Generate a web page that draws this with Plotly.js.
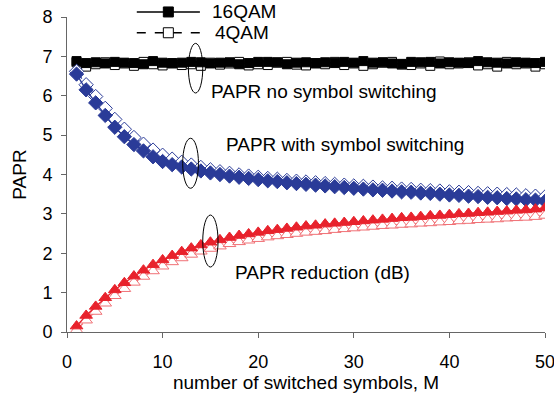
<!DOCTYPE html>
<html><head><meta charset="utf-8">
<script src="https://cdn.plot.ly/plotly-3.0.1.min.js"></script>
<style>html,body{margin:0;padding:0;background:#fff}#c{width:554px;height:394px}</style>
</head><body><div id="c"></div>
<script>
const M = [1,2,3,4,5,6,7,8,9,10,11,12,13,14,15,16,17,18,19,20,21,22,23,24,25,26,27,28,29,30,31,32,33,34,35,36,37,38,39,40,41,42,43,44,45,46,47,48,49,50];
const noSwitch16 = [6.88,6.83,6.85,6.82,6.86,6.84,6.83,6.80,6.88,6.84,6.83,6.84,6.86,6.85,6.82,6.84,6.85,6.80,6.83,6.86,6.86,6.85,6.80,6.84,6.85,6.83,6.85,6.83,6.86,6.84,6.88,6.84,6.85,6.82,6.81,6.86,6.85,6.86,6.82,6.85,6.84,6.83,6.88,6.85,6.84,6.82,6.85,6.84,6.83,6.86];
const noSwitch4 = [6.85,6.74,6.80,6.85,6.78,6.82,6.76,6.86,6.80,6.77,6.82,6.78,6.80,6.76,6.84,6.79,6.82,6.86,6.77,6.80,6.78,6.84,6.86,6.79,6.77,6.82,6.80,6.86,6.78,6.82,6.76,6.80,6.84,6.86,6.79,6.78,6.82,6.76,6.87,6.80,6.82,6.85,6.77,6.80,6.74,6.86,6.80,6.82,6.74,6.80];
const switch16 = [6.55,6.15,5.82,5.50,5.20,4.96,4.76,4.60,4.45,4.33,4.25,4.19,4.14,4.09,4.04,4.00,3.96,3.93,3.90,3.87,3.84,3.82,3.79,3.77,3.75,3.73,3.71,3.69,3.67,3.65,3.63,3.61,3.60,3.58,3.56,3.55,3.53,3.52,3.50,3.48,3.47,3.45,3.44,3.42,3.41,3.39,3.38,3.36,3.35,3.32];
const switch4 = [6.62,6.28,5.98,5.68,5.40,5.15,4.94,4.77,4.62,4.49,4.39,4.31,4.24,4.18,4.12,4.07,4.03,3.99,3.96,3.93,3.90,3.88,3.85,3.83,3.81,3.79,3.77,3.75,3.73,3.71,3.70,3.68,3.66,3.65,3.63,3.62,3.60,3.59,3.58,3.56,3.55,3.54,3.52,3.51,3.50,3.49,3.48,3.46,3.45,3.43];
const reduction16 = [0.15,0.42,0.65,0.87,1.07,1.25,1.42,1.57,1.71,1.83,1.94,2.04,2.13,2.21,2.28,2.34,2.40,2.45,2.49,2.53,2.57,2.60,2.63,2.66,2.69,2.71,2.74,2.76,2.78,2.80,2.82,2.84,2.86,2.88,2.90,2.91,2.93,2.95,2.96,2.98,3.00,3.01,3.03,3.04,3.06,3.07,3.09,3.10,3.12,3.15];
const reduction4 = [0.05,0.30,0.52,0.73,0.92,1.10,1.26,1.41,1.55,1.67,1.78,1.88,1.97,2.05,2.12,2.18,2.24,2.29,2.33,2.37,2.41,2.44,2.47,2.50,2.53,2.55,2.57,2.60,2.62,2.64,2.66,2.68,2.70,2.71,2.73,2.74,2.76,2.77,2.79,2.80,2.82,2.83,2.85,2.86,2.87,2.89,2.90,2.91,2.93,2.96];
const xTicks = [0,10,20,30,40,50];
const yTicks = [0,1,2,3,4,5,6,7,8];
const legendNames = ['16QAM','4QAM'];
const labels = ['PAPR no symbol switching','PAPR with symbol switching','PAPR reduction (dB)'];

const FONT = 'Liberation Sans, Arial, sans-serif';
const BLUE = '#2a3b98', RED = '#e8222c', PINK = '#f07075';

function tr(y, sym, fill, lineCol, dash, size, mlc){
  return {x:M, y:y, type:'scatter', mode:'lines+markers', showlegend:false,
    line:{color:lineCol, width:1.3, dash:dash},
    marker:{symbol:sym, size:size, color:fill, line:{color:mlc, width:1}}};
}
const data = [
  tr(noSwitch4,'square','#fff','#000','dash',9,'#000'),
  tr(noSwitch16,'square','#000','#000','solid',9,'#000'),
  tr(switch4,'diamond','#fff',BLUE,'dash',11,BLUE),
  tr(switch16,'diamond',BLUE,BLUE,'solid',11,BLUE),
  tr(reduction4,'triangle-up','#fff',PINK,'dash',11,PINK),
  tr(reduction16,'triangle-up',RED,RED,'solid',11,RED)
];

// paper-coordinate legend
const lx0=0.146, lx1=0.278, lxm=0.212, ly1=1.016, ly2=0.950;
const shapes = [
  {type:'line',xref:'paper',yref:'paper',x0:lx0,x1:lx1,y0:ly1,y1:ly1,line:{color:'#000',width:1.5}},
  {type:'line',xref:'paper',yref:'paper',x0:lx0,x1:lx1,y0:ly2,y1:ly2,line:{color:'#000',width:1.5,dash:'dash'}},
  {type:'rect',xref:'paper',yref:'paper',xsizemode:'pixel',ysizemode:'pixel',xanchor:lxm,yanchor:ly1,x0:-5,x1:5,y0:-5,y1:5,fillcolor:'#000',line:{color:'#000',width:1}},
  {type:'rect',xref:'paper',yref:'paper',xsizemode:'pixel',ysizemode:'pixel',xanchor:lxm,yanchor:ly2,x0:-5,x1:5,y0:-5,y1:5,fillcolor:'#fff',line:{color:'#000',width:1}},
  {type:'circle',xref:'x',yref:'y',x0:12.7,x1:14.2,y0:6.07,y1:7.33,line:{color:'#000',width:1}},
  {type:'circle',xref:'x',yref:'y',x0:12.1,x1:13.75,y0:3.65,y1:4.92,line:{color:'#000',width:1}},
  {type:'circle',xref:'x',yref:'y',x0:14.2,x1:15.8,y0:1.65,y1:2.97,line:{color:'#000',width:1}}
];
const annotations = [
  {xref:'paper',yref:'paper',x:0.299,y:ly1,text:legendNames[0],showarrow:false,xanchor:'left',yanchor:'middle',font:{size:19,color:'#000',family:FONT}},
  {xref:'paper',yref:'paper',x:0.305,y:ly2,text:legendNames[1],showarrow:false,xanchor:'left',yanchor:'middle',font:{size:19,color:'#000',family:FONT}},
  {xref:'x',yref:'y',x:14.9,y:6.1,text:labels[0],showarrow:false,xanchor:'left',yanchor:'middle',font:{size:19,color:'#000',family:FONT}},
  {xref:'x',yref:'y',x:16.4,y:4.77,text:labels[1],showarrow:false,xanchor:'left',yanchor:'middle',font:{size:19,color:'#000',family:FONT}},
  {xref:'x',yref:'y',x:17.4,y:1.5,text:labels[2],showarrow:false,xanchor:'left',yanchor:'middle',font:{size:19,color:'#000',family:FONT}}
];

const layout = {
  width:554, height:394,
  margin:{l:67, r:9, t:17, b:62, pad:0},
  paper_bgcolor:'#fff', plot_bgcolor:'#fff',
  font:{family:FONT, size:18, color:'#000'},
  showlegend:false,
  xaxis:{range:[0,50], tickvals:xTicks, ticktext:xTicks.map(String), showgrid:false, zeroline:false,
    showline:true, linecolor:'#666', linewidth:1, ticks:'outside', ticklen:5, tickcolor:'#666',
    ticklabelstandoff:8, ticklabeloverflow:'allow', automargin:false,
    tickfont:{size:18}, title:{text:'number of switched symbols, M', font:{size:19}, standoff:2}},
  yaxis:{range:[0,8], tickvals:yTicks, ticktext:yTicks.map(String), showgrid:false, zeroline:false,
    showline:true, linecolor:'#666', linewidth:1, ticks:'outside', ticklen:5, tickcolor:'#666',
    ticklabelstandoff:5, automargin:false,
    tickfont:{size:18}, title:{text:'PAPR', font:{size:19}, standoff:10}},
  shapes:shapes, annotations:annotations
};
Plotly.newPlot('c', data, layout, {displayModeBar:false, staticPlot:true});
</script></body></html>
